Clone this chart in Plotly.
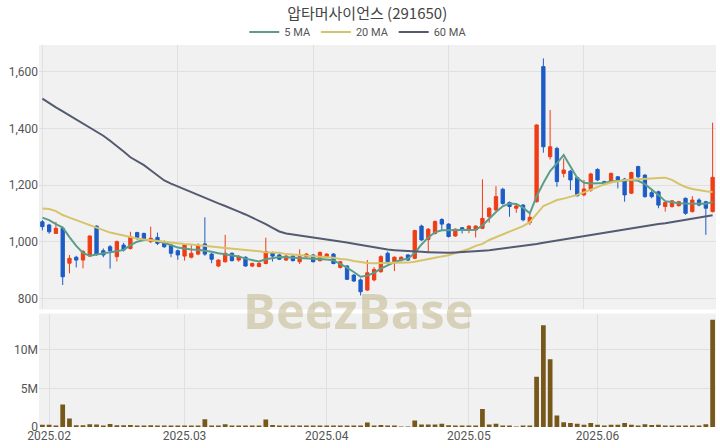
import plotly.graph_objects as go
import pandas as pd

# ---- data ----
holidays = ["2025-03-03", "2025-05-01", "2025-05-05", "2025-05-06", "2025-06-03", "2025-06-06"]
dates = [d.strftime("%Y-%m-%d") for d in pd.bdate_range("2025-01-31", "2025-06-27")
         if d.strftime("%Y-%m-%d") not in holidays]

opens = [1070, 1059, 1029, 1047, 924, 945, 935, 949, 1055, 968,
         982, 947, 988, 976, 1032, 1029, 1000, 1015, 1000, 988,
         968, 949, 945, 956, 992, 956, 914, 929, 959, 935,
         945, 914, 912, 923, 961, 953, 935, 949, 929, 947,
         953, 933, 947, 956, 909, 914, 882, 865, 829, 865,
         894, 959, 929, 935, 953, 941, 1055, 1008, 1029, 1078,
         1062, 1020, 1049, 1044, 1041, 1047, 1088, 1112, 1185, 1138,
         1118, 1129, 1067, 1141, 1618, 1300, 1329, 1241, 1249, 1226,
         1165, 1182, 1255, 1212, 1212, 1229, 1221, 1171, 1265, 1235,
         1173, 1176, 1124, 1124, 1127, 1153, 1106, 1147, 1141, 1106]
highs = [1076, 1063, 1070, 1053, 953, 950, 971, 1022, 1057, 976,
         988, 1004, 996, 1035, 1035, 1032, 1053, 1032, 1004, 992,
         972, 992, 988, 994, 1086, 960, 938, 1024, 962, 953,
         948, 926, 928, 1014, 965, 958, 953, 952, 973, 960,
         956, 965, 959, 960, 932, 917, 885, 870, 935, 910,
         952, 965, 948, 948, 956, 1042, 1060, 1048, 1075, 1083,
         1065, 1047, 1052, 1058, 1058, 1220, 1122, 1196, 1190, 1142,
         1130, 1133, 1100, 1414, 1647, 1465, 1335, 1294, 1253, 1230,
         1218, 1243, 1259, 1215, 1244, 1232, 1225, 1247, 1268, 1238,
         1182, 1180, 1141, 1147, 1144, 1156, 1161, 1153, 1144, 1420]
lows = [1040, 1028, 1027, 847, 888, 909, 906, 947, 950, 945,
        905, 930, 965, 972, 1006, 1003, 995, 988, 978, 945,
        936, 933, 941, 952, 950, 924, 910, 926, 930, 929,
        912, 910, 910, 920, 930, 935, 932, 930, 921, 944,
        927, 930, 943, 920, 905, 865, 858, 810, 826, 860,
        890, 924, 896, 930, 932, 938, 1003, 965, 1025, 1041,
        1015, 1017, 1029, 1030, 1015, 1044, 1067, 1108, 1130, 1088,
        1102, 1072, 1059, 1138, 1314, 1290, 1194, 1227, 1182, 1160,
        1160, 1176, 1214, 1200, 1208, 1188, 1141, 1168, 1225, 1155,
        1153, 1118, 1106, 1120, 1124, 1095, 1103, 1125, 1024, 1103]
closes = [1053, 1035, 1047, 876, 941, 935, 965, 1020, 956, 953,
          968, 1000, 971, 1018, 1015, 1006, 1012, 994, 982, 959,
          953, 988, 959, 988, 956, 938, 935, 959, 933, 947,
          914, 923, 923, 965, 949, 938, 949, 933, 947, 956,
          929, 962, 956, 923, 929, 867, 861, 823, 890, 902,
          947, 929, 945, 945, 935, 1039, 1006, 1044, 1071, 1062,
          1018, 1044, 1041, 1055, 1055, 1082, 1118, 1159, 1135, 1124,
          1126, 1077, 1086, 1412, 1335, 1335, 1212, 1253, 1218, 1162,
          1186, 1239, 1218, 1204, 1241, 1218, 1165, 1244, 1229, 1159,
          1159, 1129, 1138, 1144, 1141, 1100, 1147, 1129, 1118, 1227]
volumes = [0.29, 0.29, 0.2, 2.93, 1.11, 0.22, 0.22, 0.37, 0.33, 0.2,
           0.4, 0.22, 0.22, 0.26, 0.2, 0.2, 0.22, 0.18, 0.1, 0.15,
           0.13, 0.12, 0.1, 0.12, 1.02, 0.1, 0.12, 0.35, 0.15, 0.1,
           0.15, 0.12, 0.15, 0.98, 0.25, 0.1, 0.08, 0.1, 0.12, 0.08,
           0.1, 0.1, 0.08, 0.1, 0.12, 0.15, 0.12, 0.2, 0.59, 0.1,
           0.25, 0.15, 0.1, 0.05, 0.05, 0.85, 0.33, 0.33, 0.33, 0.42,
           0.22, 0.15, 0.15, 0.15, 0.15, 2.33, 0.33, 0.42, 0.15, 0.15,
           0.05, 0.15, 0.15, 6.5, 13.18, 8.79, 1.5, 0.63, 0.52, 0.42,
           0.28, 0.52, 0.29, 0.2, 0.28, 0.29, 0.52, 0.3, 0.2, 0.37,
           0.25, 0.28, 0.2, 0.15, 0.15, 0.2, 0.2, 0.2, 0.37, 13.9]
volumes = [v * 1e6 for v in volumes]
ma5 = [1085, 1076, 1062, 1050, 1016, 985, 960, 950, 955, 960,
       963, 966, 971, 988, 1000, 1006, 1006, 1002, 996, 988,
       979, 975, 972, 971, 968, 964, 959, 955, 952, 948,
       940, 934, 930, 938, 943, 946, 945, 944, 943, 942,
       941, 939, 937, 934, 922, 908, 893, 876, 880, 890,
       905, 918, 928, 935, 940, 960, 990, 1015, 1033, 1040,
       1041, 1040, 1041, 1041, 1042, 1057, 1082, 1105, 1125, 1135,
       1133, 1120, 1100, 1160, 1207, 1249, 1276, 1306, 1265, 1225,
       1208, 1205, 1206, 1207, 1212, 1215, 1216, 1218, 1215, 1203,
       1185, 1165, 1143, 1139, 1136, 1135, 1134, 1133, 1134, 1140]
ma20 = [1117, 1115, 1108, 1094, 1085, 1076, 1068, 1059, 1048, 1039,
        1032, 1027, 1021, 1015, 1011, 1008, 1005, 1002, 1000, 997,
        994, 992, 990, 987, 985, 983, 980, 978, 976, 973,
        971, 969, 966, 963, 962, 961, 956, 954, 952, 950,
        949, 948, 946, 943, 939, 937, 932, 928, 925, 924,
        924, 924, 924, 924, 926, 929, 933, 939, 943, 948,
        952, 960, 967, 974, 985, 992, 1006, 1016, 1025, 1034,
        1045, 1055, 1069, 1098, 1126, 1136, 1147, 1152, 1158, 1165,
        1174, 1184, 1193, 1202, 1209, 1214, 1218, 1219, 1221, 1222,
        1224, 1225, 1226, 1218, 1204, 1193, 1186, 1181, 1178, 1175]
ma60 = [1505, 1488, 1474, 1460, 1446, 1432, 1418, 1404, 1389, 1374,
        1356, 1338, 1318, 1298, 1285, 1270, 1252, 1235, 1216, 1205,
        1195, 1184, 1173, 1163, 1154, 1145, 1135, 1126, 1117, 1106,
        1096, 1085, 1074, 1062, 1049, 1036, 1029, 1026, 1022, 1019,
        1015, 1011, 1008, 1004, 1000, 997, 993, 989, 984, 980,
        975, 972, 970, 968, 966, 965, 964, 963, 962, 962,
        961, 962, 963, 964, 966, 968, 970, 973, 975, 979,
        982, 985, 988, 992, 996, 1000, 1004, 1008, 1012, 1016,
        1020, 1024, 1027, 1031, 1035, 1039, 1043, 1047, 1050, 1054,
        1058, 1062, 1065, 1069, 1073, 1077, 1081, 1085, 1089, 1093]

month_tick_dates = ["2025-02-03", "2025-03-04", "2025-04-02", "2025-05-02", "2025-06-02"]
month_tick_text = ["2025.02", "2025.03", "2025.04", "2025.05", "2025.06"]
title_text = "압타머사이언스 (291650)"

# ---- styles ----
UP = "#ef3d15"
DOWN = "#1d5cc6"
VOL = "#75581a"
C5 = "#5a9e8a"
C20 = "#d6c46a"
C60 = "#545a72"
GRID = "#e0e0e0"
BG = "#f1f1f1"
FONT = "Roboto, Noto Sans CJK KR, sans-serif"

fig = go.Figure()
fig.add_trace(go.Candlestick(
    x=dates, open=opens, high=highs, low=lows, close=closes,
    increasing=dict(line=dict(color=UP, width=1), fillcolor=UP),
    decreasing=dict(line=dict(color=DOWN, width=1), fillcolor=DOWN),
    showlegend=False, xaxis="x", yaxis="y", name="price"))
for name, vals, col in [("5 MA", ma5, C5), ("20 MA", ma20, C20), ("60 MA", ma60, C60)]:
    fig.add_trace(go.Scatter(x=dates, y=vals, mode="lines", name=name,
                             line=dict(color=col, width=2), xaxis="x", yaxis="y"))
fig.add_trace(go.Bar(x=dates, y=volumes, marker=dict(color=VOL, line=dict(width=0)),
                     showlegend=False, xaxis="x2", yaxis="y2", name="volume"))

fig.update_layout(
    width=720, height=448,
    margin=dict(l=38.5, r=4, t=45, b=21),
    paper_bgcolor="white", plot_bgcolor=BG,
    font=dict(family=FONT, size=12, color="#555"),
    title=dict(text=title_text, x=0.51, xref="container", xanchor="center",
               y=1 - 14 / 448, yref="container", yanchor="middle",
               font=dict(family="Noto Sans CJK KR, sans-serif", size=15, color="#444")),
    legend=dict(orientation="h", x=0.4716, xanchor="center", y=1.034, yanchor="middle",
                font=dict(size=11, color="#555"), bgcolor="rgba(0,0,0,0)",
                itemwidth=30, tracegroupgap=0),
    bargap=0.3,
    showlegend=True,
    xaxis=dict(domain=[0, 1], anchor="y", type="category", range=[-0.5, 99.5],
               rangeslider=dict(visible=False), showticklabels=False,
               tickmode="array", tickvals=dates[::20], showgrid=True, gridcolor=GRID,
               zeroline=False, showline=False, ticks=""),
    yaxis=dict(domain=[0.3076, 1], anchor="x", range=[760.5, 1694.3], dtick=200,
               tickformat=",d", showgrid=True, gridcolor=GRID, zeroline=False, ticks=""),
    xaxis2=dict(domain=[0, 1], anchor="y2", type="category", range=[-0.5, 99.5],
                tickmode="array", tickvals=month_tick_dates, ticktext=month_tick_text,
                showgrid=True, gridcolor=GRID, zeroline=False, showline=False, ticks="",
                tickfont=dict(size=12)),
    yaxis2=dict(domain=[0, 0.2971], anchor="x2", range=[0, 14.7e6],
                tickvals=[0, 5e6, 10e6], ticktext=["0", "5M", "10M"],
                showgrid=True, gridcolor=GRID, zeroline=False, ticks=""),
    annotations=[dict(text="<b>BeezBase</b>", xref="paper", yref="paper",
                      x=0.4716, y=0.306, xanchor="center", yanchor="middle",
                      showarrow=False,
                      font=dict(family="Open Sans, sans-serif", size=49,
                                color="rgba(190,178,130,0.5)"))],
)

fig.write_html("out.html", config={"displayModeBar": False},
               post_script="document.body.style.margin='0';document.body.style.overflow='hidden';")
